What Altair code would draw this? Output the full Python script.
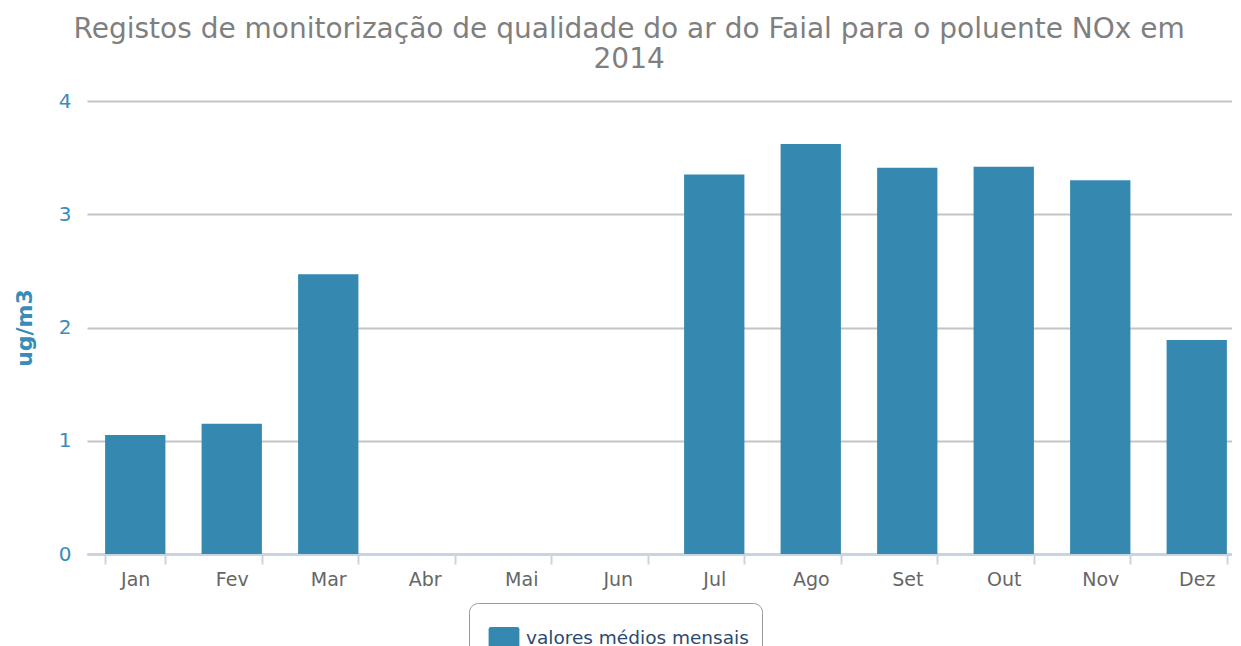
import altair as alt
import pandas as pd

months = ["Jan", "Fev", "Mar", "Abr", "Mai", "Jun", "Jul", "Ago", "Set", "Out", "Nov", "Dez"]
values = [1.05, 1.15, 2.47, None, None, None, 3.35, 3.62, 3.41, 3.42, 3.30, 1.89]
series_name = "valores médios mensais"

df = pd.DataFrame({"mes": months, "valor": values, "serie": [series_name] * len(months)})

rounded = ("M-0.6,-0.5 L0.6,-0.5 Q0.7,-0.5 0.7,-0.4 L0.7,0.4 Q0.7,0.5 0.6,0.5 "
           "L-0.6,0.5 Q-0.7,0.5 -0.7,0.4 L-0.7,-0.4 Q-0.7,-0.5 -0.6,-0.5 Z")

chart = alt.Chart(df).mark_bar(color="#3589b0").encode(
    x=alt.X("mes:N", sort=months, title=None,
            scale=alt.Scale(paddingInner=0.375, paddingOuter=0.1875),
            axis=alt.Axis(labelAngle=0, labelFontSize=19, labelColor="#666666",
                          labelFont="DejaVu Sans", labelPadding=6,
                          domainColor="#c8d4e2", domainWidth=3, tickColor="#c8d4e2",
                          tickWidth=2, tickSize=10, tickBand="extent", grid=False)),
    y=alt.Y("valor:Q", title="ug/m3",
            scale=alt.Scale(domain=[0, 4]),
            axis=alt.Axis(values=[0, 1, 2, 3, 4], labelFontSize=20, labelColor="#3a8cb8",
                          labelFont="DejaVu Sans", labelPadding=16, ticks=False, domain=False,
                          gridColor="#c4c4c4", gridWidth=2,
                          titleFontSize=22, titleFontWeight="bold", titleColor="#3a8cb8",
                          titleFont="DejaVu Sans", titlePadding=22)),
    color=alt.Color("serie:N", scale=alt.Scale(domain=[series_name], range=["#3589b0"]),
                    legend=alt.Legend(title=None, orient="none", legendX=382, legendY=502,
                                      symbolType=rounded, symbolSize=1936,
                                      symbolStrokeWidth=0, labelFontSize=18.5,
                                      labelColor="#2c4a6e", labelFont="DejaVu Sans",
                                      labelLimit=500,
                                      strokeColor="#999999", cornerRadius=9,
                                      padding=13, labelOffset=0)),
).properties(
    width=1158, height=453,
    title=alt.TitleParams(
        ["Registos de monitorização de qualidade do ar do Faial para o poluente NOx em", "2014"],
        fontSize=28, fontWeight="normal", color="#7f7f7f", font="DejaVu Sans",
        anchor="middle", frame="bounds", lineHeight=30, offset=17),
    padding={"left": 5, "top": 8, "right": -13, "bottom": 0},
).configure_view(stroke=None)

chart.save("out.html", embed_options={"renderer": "svg", "actions": False})
